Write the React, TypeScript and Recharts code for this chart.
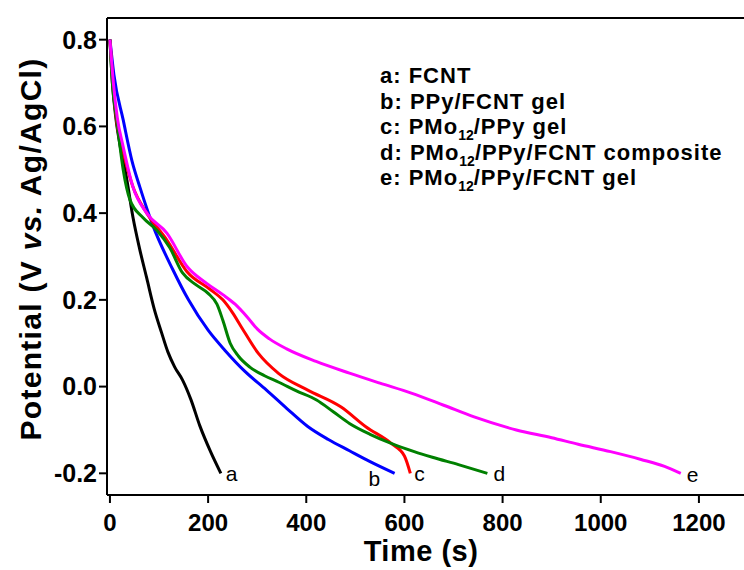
import React from 'react';
import { LineChart, Line, XAxis, YAxis, Customized } from 'recharts';

const FONT = '"Liberation Sans", Arial, Helvetica, sans-serif';

// Series a: FCNT
const aTime = [0, 5, 12, 20, 34, 47, 60, 75, 90, 105, 118, 132, 148, 165, 183, 205, 226];
const aPot = [0.8, 0.7, 0.62, 0.56, 0.48, 0.39, 0.32, 0.25, 0.18, 0.125, 0.08, 0.045, 0.015, -0.03, -0.09, -0.15, -0.2];
// Series b: PPy/FCNT gel
const bTime = [0, 8, 27, 45, 61, 88, 128, 160, 200, 234, 275, 319, 360, 403, 445, 488, 530, 580];
const bPot = [0.8, 0.72, 0.615, 0.52, 0.46, 0.37, 0.27, 0.2, 0.13, 0.084, 0.035, -0.008, -0.05, -0.092, -0.122, -0.148, -0.173, -0.2];
// Series c: PMo12/PPy gel
const cTime = [0, 6, 15, 27, 47, 75, 116, 157, 203, 230, 250, 268, 302, 344, 403, 471, 522, 573, 600, 612];
const cPot = [0.8, 0.7, 0.6, 0.54, 0.46, 0.4, 0.338, 0.265, 0.225, 0.2, 0.17, 0.137, 0.077, 0.03, -0.008, -0.047, -0.093, -0.131, -0.16, -0.2];
// Series d: PMo12/PPy/FCNT composite
const dTime = [0, 5, 14, 27, 41, 67, 96, 122, 148, 175, 200, 218, 230, 245, 262, 285, 315, 344, 380, 421, 455, 488, 530, 573, 620, 657, 710, 769];
const dPot = [0.8, 0.7, 0.615, 0.5, 0.43, 0.39, 0.36, 0.32, 0.262, 0.235, 0.215, 0.19, 0.153, 0.1, 0.07, 0.045, 0.025, 0.01, -0.01, -0.031, -0.058, -0.085, -0.11, -0.131, -0.15, -0.163, -0.18, -0.2];
// Series e: PMo12/PPy/FCNT gel
const eTime = [0, 7, 15, 27, 47, 75, 116, 157, 197, 230, 255, 280, 300, 325, 360, 420, 488, 550, 614, 680, 742, 828, 900, 954, 1020, 1082, 1130, 1163];
const ePot = [0.8, 0.7, 0.62, 0.553, 0.46, 0.4, 0.354, 0.277, 0.238, 0.212, 0.19, 0.16, 0.133, 0.11, 0.087, 0.058, 0.031, 0.008, -0.015, -0.043, -0.07, -0.1, -0.118, -0.133, -0.15, -0.168, -0.184, -0.2];

const xMajorTicks = [0, 200, 400, 600, 800, 1000, 1200];
const xMinorTicks = [100, 300, 500, 700, 900, 1100];
const yMajorTicks = [-0.2, 0, 0.2, 0.4, 0.6, 0.8];
const yMinorTicks = [-0.1, 0.1, 0.3, 0.5, 0.7];
const xDomain = [-6, 1300];
const yDomain = [-0.25, 0.85];

const toRows = (ts: number[], vs: number[]) => ts.map((t, i) => ({ t, v: vs[i] }));

const series = [
  { id: 'a', data: toRows(aTime, aPot), color: '#000000', dx: 5, dy: 8 },
  { id: 'b', data: toRows(bTime, bPot), color: '#0000ff', dx: -26, dy: 13 },
  { id: 'c', data: toRows(cTime, cPot), color: '#ff0000', dx: 4, dy: 8 },
  { id: 'd', data: toRows(dTime, dPot), color: '#008000', dx: 6, dy: 8 },
  { id: 'e', data: toRows(eTime, ePot), color: '#ff00ff', dx: 6, dy: 9 },
];

const legendLines = [
  ['a: FCNT'],
  ['b: PPy/FCNT gel'],
  ['c: PMo', '12', '/PPy gel'],
  ['d: PMo', '12', '/PPy/FCNT composite'],
  ['e: PMo', '12', '/PPy/FCNT gel'],
];

const Annotations = () => (
  <g fontFamily={FONT} fill="#000">
    {legendLines.map((parts, i) => (
      <text key={i} x={380} y={83 + i * 25.5} fontSize={22} fontWeight="bold" letterSpacing={1}>
        <tspan>{parts[0]}</tspan>
        {parts.length > 1 && (
          <>
            <tspan dy={6} fontSize={14} letterSpacing={0}>{parts[1]}</tspan>
            <tspan dy={-6}>{parts[2]}</tspan>
          </>
        )}
      </text>
    ))}
    <text x={421} y={561} fontSize={29} fontWeight="bold" textAnchor="middle" letterSpacing={0.5}>Time (s)</text>
    <text
      x={41}
      y={249}
      fontSize={30}
      fontWeight="bold"
      textAnchor="middle"
      letterSpacing={1.3}
      transform="rotate(-90, 41, 249)"
    >
      <tspan>Potential (V </tspan>
      <tspan fontStyle="italic">vs.</tspan>
      <tspan> Ag/AgCl)</tspan>
    </text>
  </g>
);

const makeEndLabel = (s: typeof series[number]) => (props: any) => {
  const { cx, cy, index } = props;
  if (index !== s.data.length - 1) return <g key={`${s.id}-${index}`} />;
  return (
    <text
      key={`${s.id}-end`}
      x={cx + s.dx}
      y={cy + s.dy}
      fontSize={21}
      fontFamily={FONT}
      fill="#000"
    >
      {s.id}
    </text>
  );
};

const axisStroke = { stroke: '#000', strokeWidth: 2 };
const xTickFont = { fill: '#000', fontSize: 24, fontWeight: 'bold', fontFamily: FONT };
const yTickFont = { fill: '#000', fontSize: 25, fontWeight: 'bold', fontFamily: FONT };

export default function App() {
  return (
    <div style={{ position: 'absolute', left: 0, top: 0, width: 744, height: 570, overflow: 'hidden', background: '#fff' }}>
      <LineChart width={760} height={570} margin={{ top: 17, right: 12, bottom: 73, left: 105 }}>
        <XAxis
          xAxisId="main"
          dataKey="t"
          type="number"
          domain={xDomain}
          ticks={xMajorTicks}
          allowDataOverflow
          height={1}
          axisLine={axisStroke}
          tickLine={axisStroke}
          tickSize={8}
          tickMargin={11}
          tick={xTickFont}
        />
        <XAxis
          xAxisId="minor"
          dataKey="t"
          type="number"
          domain={xDomain}
          ticks={xMinorTicks}
          allowDataOverflow
          height={1}
          axisLine={false}
          tickLine={axisStroke}
          tickSize={4}
          tick={false}
        />
        <XAxis
          xAxisId="top"
          orientation="top"
          dataKey="t"
          type="number"
          domain={xDomain}
          allowDataOverflow
          height={1}
          axisLine={axisStroke}
          tickLine={false}
          tick={false}
        />
        <YAxis
          yAxisId="main"
          type="number"
          domain={yDomain}
          ticks={yMajorTicks}
          allowDataOverflow
          width={1}
          axisLine={axisStroke}
          tickLine={axisStroke}
          tickSize={8}
          tickMargin={2}
          tick={yTickFont}
          tickFormatter={(v: number) => v.toFixed(1)}
        />
        <YAxis
          yAxisId="minor"
          type="number"
          domain={yDomain}
          ticks={yMinorTicks}
          allowDataOverflow
          width={1}
          axisLine={false}
          tickLine={axisStroke}
          tickSize={4}
          tick={false}
        />
        {series.map((s) => (
          <Line
            key={s.id}
            xAxisId="main"
            yAxisId="main"
            data={s.data}
            dataKey="v"
            type="monotone"
            stroke={s.color}
            strokeWidth={3}
            dot={makeEndLabel(s)}
            activeDot={false}
            isAnimationActive={false}
          />
        ))}
        <Customized component={Annotations} />
      </LineChart>
    </div>
  );
}
